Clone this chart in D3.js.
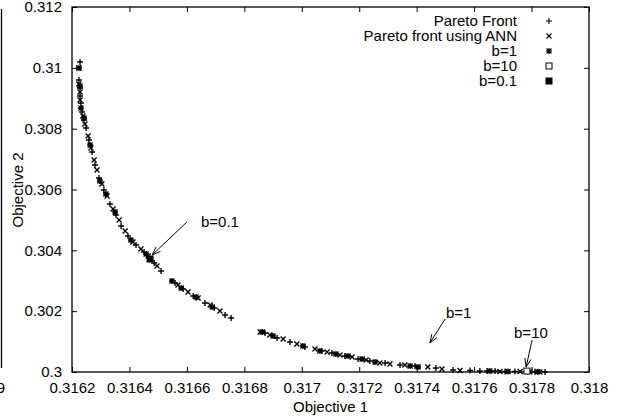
<!DOCTYPE html>
<html><head><meta charset="utf-8">
<script src="https://cdn.jsdelivr.net/npm/d3@7"></script>
<style>body{margin:0;background:#fff}svg{display:block}text{font-family:"Liberation Sans",Arial,sans-serif;font-size:15px;fill:#000}</style>
</head><body><svg id="c" width="619" height="417"></svg>
<script>
const xTicks=[0.3162,0.3164,0.3166,0.3168,0.317,0.3172,0.3174,0.3176,0.3178,0.318];
const xTickLabels=["0.3162","0.3164","0.3166","0.3168","0.317","0.3172","0.3174","0.3176","0.3178","0.318"];
const yTicks=[0.3,0.302,0.304,0.306,0.308,0.31,0.312];
const yTickLabels=["0.3","0.302","0.304","0.306","0.308","0.31","0.312"];
const seriesNames=["Pareto Front","Pareto front using ANN","b=1","b=10","b=0.1"];
const paretoX=[0.316228,0.316224,0.316228,0.316228,0.316231,0.316235,0.316242,0.316249,0.316259,0.316270,0.316280,0.316294,0.316311,0.316332,0.316353,0.316371,0.316395,0.316423,0.316451,0.316486,0.316510,0.316559,0.316587,0.316622,0.316663,0.316695,0.316733,0.316754,0.316872,0.316914,0.316959,0.317011,0.317070,0.317105,0.317150,0.317196,0.317237,0.317290,0.317342,0.317394,0.317467,0.317527,0.317586,0.317620,0.317645,0.317673,0.317708,0.317742,0.317812,0.317847];
const paretoY=[0.310192,0.309600,0.309337,0.309074,0.308844,0.308548,0.308285,0.308022,0.307627,0.307233,0.306805,0.306378,0.305984,0.305523,0.305162,0.304800,0.304471,0.304175,0.303945,0.303584,0.303321,0.302926,0.302729,0.302499,0.302268,0.302104,0.301874,0.301775,0.301282,0.301118,0.300986,0.300822,0.300690,0.300625,0.300526,0.300427,0.300362,0.300296,0.300230,0.300197,0.300132,0.300066,0.300049,0.300033,0.300033,0.300033,0.300016,0.300016,0.300005,0.300003];
const annX=[0.316224,0.316224,0.316228,0.316228,0.316238,0.316245,0.316256,0.316266,0.316277,0.316287,0.316304,0.316322,0.316343,0.316364,0.316385,0.316412,0.316440,0.316465,0.316496,0.316569,0.316604,0.316639,0.316681,0.316715,0.316855,0.316889,0.316935,0.316983,0.317046,0.317088,0.317133,0.317175,0.317224,0.317272,0.317307,0.317359,0.317439,0.317488,0.317551,0.317690,0.317760,0.317794,0.317829];
const annY=[0.309994,0.309468,0.309205,0.308942,0.308417,0.308154,0.307759,0.307364,0.306970,0.306641,0.306181,0.305786,0.305359,0.304997,0.304636,0.304274,0.304044,0.303814,0.303485,0.302860,0.302630,0.302433,0.302203,0.302005,0.301315,0.301216,0.301085,0.300921,0.300756,0.300658,0.300559,0.300493,0.300395,0.300296,0.300263,0.300230,0.300164,0.300099,0.300049,0.300016,0.300016,0.300005,0.300002];
const b1X=[0.316224,0.316228,0.316231,0.316242,0.316263,0.316297,0.316318,0.316350,0.316405,0.316458,0.316548,0.316580,0.316632,0.316688,0.316862,0.316900,0.317004,0.317063,0.317119,0.317161,0.317210,0.317255,0.317377,0.317405,0.317655,0.317718,0.317822];
const b1Y=[0.309994,0.309403,0.308680,0.308351,0.307463,0.306280,0.305852,0.305260,0.304340,0.303879,0.302992,0.302762,0.302466,0.302137,0.301315,0.301184,0.300855,0.300690,0.300592,0.300526,0.300427,0.300329,0.300197,0.300164,0.300033,0.300016,0.300005];
const b10X=[0.317784], b10Y=[0.30003];
const b01X=[0.316472], b01Y=[0.303715];
const annotLabels=["b=0.1","b=1","b=10"];
const annotTextX=[0.316649,0.317502,0.317739];
const annotTextY=[0.304931,0.301940,0.301282];
const arrowFromX=[0.316600,0.317499,0.317802];
const arrowFromY=[0.304931,0.301742,0.301052];
const arrowToX=[0.316479,0.317446,0.317781];
const arrowToY=[0.303847,0.300953,0.300164];

const svg=d3.select("#c");
const L=72,R=589,T=7,B=372;
const x=d3.scaleLinear().domain([0.3162,0.318]).range([L,R]);
const y=d3.scaleLinear().domain([0.3,0.312]).range([B,T]);

// stray edge of neighbouring figure
svg.append("line").attr("x1",1.5).attr("x2",1.5).attr("y1",9).attr("y2",368).attr("stroke","#000").attr("stroke-width",1.3);
svg.append("text").attr("x",5).attr("y",393).attr("text-anchor","end").text("9");

const fmtX=(d,i)=>xTickLabels[i], fmtY=(d,i)=>yTickLabels[i];
svg.append("g").attr("transform",`translate(0,${B})`).call(d3.axisBottom(x).tickValues(xTicks).tickFormat(fmtX).tickSizeInner(-5).tickSizeOuter(0).tickPadding(10));
svg.append("g").attr("transform",`translate(0,${T})`).call(d3.axisTop(x).tickValues(xTicks).tickFormat("").tickSizeInner(-5).tickSizeOuter(0));
svg.append("g").attr("transform",`translate(${L},0)`).call(d3.axisLeft(y).tickValues(yTicks).tickFormat(fmtY).tickSizeInner(-5).tickSizeOuter(0).tickPadding(10));
svg.append("g").attr("transform",`translate(${R},0)`).call(d3.axisRight(y).tickValues(yTicks).tickFormat("").tickSizeInner(-5).tickSizeOuter(0));
svg.selectAll(".domain").remove();
svg.selectAll(".tick line").attr("stroke","#000");
svg.selectAll(".tick text").attr("font-size",15).attr("font-family","Liberation Sans, Arial, sans-serif").attr("fill","#000");
svg.append("rect").attr("x",L).attr("y",T).attr("width",R-L).attr("height",B-T).attr("fill","none").attr("stroke","#000").attr("stroke-width",1.3);

svg.append("text").attr("x",(L+R)/2).attr("y",412).attr("text-anchor","middle").text("Objective 1");
svg.append("text").attr("transform","translate(23,190) rotate(-90)").attr("text-anchor","middle").text("Objective 2");

const plusP="M-3,0H3M0,-3V3", crossP="M-2.5,-2.5L2.5,2.5M-2.5,2.5L2.5,-2.5", starP=plusP+crossP;
function pts(xs,ys,path){
  svg.append("g").selectAll("path").data(xs.map((v,i)=>[v,ys[i]])).join("path")
   .attr("transform",d=>`translate(${x(d[0])},${y(d[1])})`).attr("d",path)
   .attr("stroke","#000").attr("stroke-width",1.35).attr("fill","none");
}
pts(paretoX,paretoY,plusP);
pts(annX,annY,crossP);
pts(b1X,b1Y,starP);
svg.append("g").selectAll("rect").data(b10X.map((v,i)=>[v,b10Y[i]])).join("rect")
  .attr("x",d=>x(d[0])-3).attr("y",d=>y(d[1])-3).attr("width",6).attr("height",6).attr("fill","#fff").attr("stroke","#000");
svg.append("g").selectAll("rect").data(b01X.map((v,i)=>[v,b01Y[i]])).join("rect")
  .attr("x",d=>x(d[0])-3.5).attr("y",d=>y(d[1])-3.5).attr("width",7).attr("height",7).attr("fill","#000");

// annotations
annotLabels.forEach((t,i)=>{
  svg.append("text").attr("x",x(annotTextX[i])).attr("y",y(annotTextY[i])).attr("dy","0.35em").text(t);
  const x1=x(arrowFromX[i]),y1=y(arrowFromY[i]),x2=x(arrowToX[i]),y2=y(arrowToY[i]);
  svg.append("line").attr("x1",x1).attr("y1",y1).attr("x2",x2).attr("y2",y2).attr("stroke","#000").attr("stroke-width",1);
  const a=Math.atan2(y2-y1,x2-x1),h=9,w=0.35;
  const p=`M${x2-h*Math.cos(a-w)},${y2-h*Math.sin(a-w)}L${x2},${y2}L${x2-h*Math.cos(a+w)},${y2-h*Math.sin(a+w)}`;
  svg.append("path").attr("d",p).attr("stroke","#000").attr("fill","none");
});

// legend
const lg=svg.append("g");
seriesNames.forEach((n,i)=>{
  const ly=21+15*i;
  lg.append("text").attr("x",517).attr("y",ly).attr("dy","0.35em").attr("text-anchor","end").text(n);
  const sx=549;
  if(i<3){lg.append("path").attr("transform",`translate(${sx},${ly})`).attr("d",[plusP,crossP,starP][i]).attr("stroke","#000").attr("fill","none").attr("stroke-width",1.1);}
  else if(i===3){lg.append("rect").attr("x",sx-3).attr("y",ly-3).attr("width",6).attr("height",6).attr("fill","#fff").attr("stroke","#000");}
  else {lg.append("rect").attr("x",sx-3.5).attr("y",ly-3.5).attr("width",7).attr("height",7).attr("fill","#000");}
});
</script></body></html>
